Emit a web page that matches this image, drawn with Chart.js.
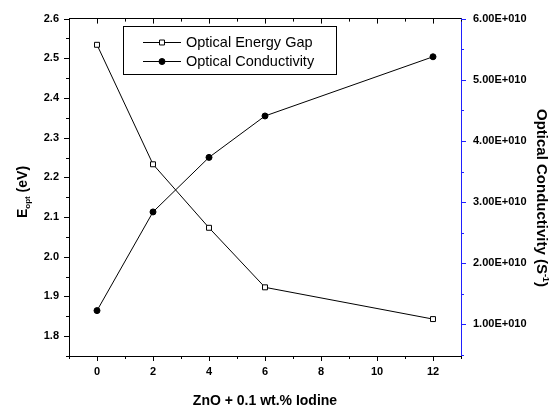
<!DOCTYPE html>
<html><head><meta charset="utf-8">
<script src="https://cdn.jsdelivr.net/npm/chart.js@4.4.1/dist/chart.umd.min.js"></script>
<style>html,body{margin:0;padding:0;background:#fff}canvas{display:block}</style>
</head><body>
<canvas id="c" width="553" height="412"></canvas>
<script>
// ---- data ----
const xValues = [0, 2, 4, 6, 12];
const energyGap = [2.534, 2.233, 2.073, 1.923, 1.843];
const conductivity = [1.226e10, 2.839e10, 3.731e10, 4.408e10, 5.376e10];
const xTickLabels = ['0', '2', '4', '6', '8', '10', '12'];
const leftTickLabels = ['1.8', '1.9', '2.0', '2.1', '2.2', '2.3', '2.4', '2.5', '2.6'];
const rightTickLabels = ['1.00E+010', '2.00E+010', '3.00E+010', '4.00E+010', '5.00E+010', '6.00E+010'];
const seriesNames = ['Optical Energy Gap', 'Optical Conductivity'];
const xTitle = 'ZnO + 0.1 wt.% Iodine';

const BLUE = '#2020ff';
const TICKFONT = {family: 'Liberation Sans, Arial, sans-serif', size: 11, weight: 'bold'};

function labelTicks(arr) {
  return (s) => { s.ticks = arr.map(t => ({value: Number(t), label: t})); };
}
function labelFor(arr) {
  return (v) => { const f = arr.find(t => Math.abs(Number(t) - v) <= 1e-9 * Math.max(1, Math.abs(v))); return f || ''; };
}

const tickPlugin = {
  id: 'ticksAndTitles',
  afterDraw(chart) {
    const ctx = chart.ctx;
    const {x, y, y1} = chart.scales;
    const ca = chart.chartArea;
    ctx.save();
    ctx.lineWidth = 1;
    // bottom & top ticks (major at labelled values, minor halfway)
    ctx.strokeStyle = '#000';
    for (let v = -1; v <= 13; v++) {
      const px = Math.round(x.getPixelForValue(v)) + 0.5;
      const len = (v % 2 === 0) ? 5 : 3;
      ctx.beginPath(); ctx.moveTo(px, ca.bottom); ctx.lineTo(px, ca.bottom + len); ctx.stroke();
      ctx.beginPath(); ctx.moveTo(px, ca.top); ctx.lineTo(px, ca.top + len); ctx.stroke();
    }
    // left ticks
    for (let i = 0; i <= 17; i++) {
      const v = 1.75 + i * 0.05;
      const py = Math.round(y.getPixelForValue(v)) + 0.5;
      const len = (i % 2 === 1) ? 5 : 3;
      ctx.beginPath(); ctx.moveTo(ca.left, py); ctx.lineTo(ca.left - len, py); ctx.stroke();
    }
    // right ticks (blue)
    ctx.strokeStyle = BLUE;
    for (let i = 1; i <= 12; i++) {
      const v = i * 0.5e10;
      const py = Math.round(y1.getPixelForValue(v)) + 0.5;
      const len = (i % 2 === 0) ? 5 : 3;
      ctx.beginPath(); ctx.moveTo(ca.right, py); ctx.lineTo(ca.right + len, py); ctx.stroke();
    }
    // axis titles
    ctx.fillStyle = '#000';
    ctx.textBaseline = 'alphabetic';
    ctx.font = 'bold 14px "Liberation Sans", Arial, sans-serif';
    ctx.textAlign = 'center';
    ctx.fillText(xTitle, (ca.left + ca.right) / 2, 405);
    // left title: E_opt (eV)
    ctx.save();
    ctx.translate(27, 192);
    ctx.rotate(-Math.PI / 2);
    ctx.textAlign = 'left';
    const fMain = 'bold 14px "Liberation Sans", Arial, sans-serif';
    const fSub = 'bold 8px "Liberation Sans", Arial, sans-serif';
    ctx.font = fMain; const wE = ctx.measureText('E').width;
    ctx.font = fSub; const wS = ctx.measureText('opt').width;
    ctx.font = fMain; const wR = ctx.measureText(' (eV)').width;
    let sx = -(wE + wS + wR) / 2;
    ctx.font = fMain; ctx.fillText('E', sx, 0); sx += wE;
    ctx.font = fSub; ctx.fillText('opt', sx, 3); sx += wS;
    ctx.font = fMain; ctx.fillText(' (eV)', sx, 0);
    ctx.restore();
    // right title: Optical Conductivity (S^-1)
    ctx.save();
    ctx.translate(537, 198);
    ctx.rotate(Math.PI / 2);
    ctx.textAlign = 'left';
    const fR = 'bold 15px "Liberation Sans", Arial, sans-serif';
    const fSup = 'bold 9px "Liberation Sans", Arial, sans-serif';
    const p1 = 'Optical Conductivity (S', p2 = '-1', p3 = ')';
    ctx.font = fR; const w1 = ctx.measureText(p1).width, w3 = ctx.measureText(p3).width;
    ctx.font = fSup; const w2 = ctx.measureText(p2).width;
    let rx = -(w1 + w2 + w3) / 2;
    ctx.font = fR; ctx.fillText(p1, rx, 0); rx += w1;
    ctx.font = fSup; ctx.fillText(p2, rx, -6); rx += w2;
    ctx.font = fR; ctx.fillText(p3, rx, 0);
    ctx.restore();
    // legend
    const ds = chart.data.datasets;
    ctx.strokeStyle = '#000';
    ctx.lineWidth = 1;
    ctx.strokeRect(123.5, 26.5, 213, 48);
    ctx.font = '14.5px "Liberation Sans", Arial, sans-serif';
    ctx.textAlign = 'left';
    ctx.textBaseline = 'middle';
    const rows = [42, 61];
    ds.forEach((d, i) => {
      const ry = rows[i] + 0.5;
      ctx.strokeStyle = '#000';
      ctx.beginPath(); ctx.moveTo(143, ry); ctx.lineTo(181, ry); ctx.stroke();
      ctx.save();
      ctx.fillStyle = d.pointBackgroundColor; ctx.strokeStyle = '#000';
      ctx.beginPath();
      if (d.pointStyle === 'rect') {
        const s = d.pointRadius * Math.SQRT1_2;
        ctx.rect(162 - s, ry - s, 2 * s, 2 * s);
      } else {
        ctx.arc(162, ry, d.pointRadius, 0, Math.PI * 2);
      }
      ctx.fill(); ctx.stroke();
      ctx.restore();
      ctx.fillStyle = '#000';
      ctx.fillText(d.label, 186, rows[i] + 1);
    });
    ctx.restore();
  }
};

new Chart(document.getElementById('c'), {
  type: 'line',
  data: {
    datasets: [
      {
        label: seriesNames[0],
        data: xValues.map((v, i) => ({x: v, y: energyGap[i]})),
        xAxisID: 'x', yAxisID: 'y',
        borderColor: '#000', borderWidth: 1,
        pointStyle: 'rect', pointRadius: 3.5,
        pointBackgroundColor: '#fff', pointBorderColor: '#000', pointBorderWidth: 1,
        tension: 0, fill: false
      },
      {
        label: seriesNames[1],
        data: xValues.map((v, i) => ({x: v, y: conductivity[i]})),
        xAxisID: 'x', yAxisID: 'y1',
        borderColor: '#000', borderWidth: 1,
        pointStyle: 'circle', pointRadius: 3,
        pointBackgroundColor: '#000', pointBorderColor: '#000', pointBorderWidth: 1,
        tension: 0, fill: false
      }
    ]
  },
  options: {
    responsive: false,
    animation: false,
    devicePixelRatio: 1,
    layout: {padding: 0},
    plugins: {legend: {display: false}, tooltip: {enabled: false}},
    scales: {
      x: {
        type: 'linear', position: 'bottom', min: -1, max: 13,
        grid: {display: false, drawTicks: false},
        border: {display: true, color: '#000', width: 1},
        afterBuildTicks: labelTicks(xTickLabels),
        ticks: {autoSkip: false, maxRotation: 0, padding: 9, color: '#000', font: TICKFONT,
          callback: labelFor(xTickLabels)},
        afterFit: (s) => { s.height = 56; }
      },
      x2: {
        type: 'linear', position: 'top', min: -1, max: 13,
        grid: {display: false, drawTicks: false},
        border: {display: true, color: '#000', width: 1},
        ticks: {display: false},
        afterFit: (s) => { s.height = 14; }
      },
      y: {
        type: 'linear', position: 'left', min: 1.75, max: 2.6,
        grid: {display: false, drawTicks: false},
        border: {display: true, color: '#000', width: 1},
        afterBuildTicks: labelTicks(leftTickLabels),
        ticks: {autoSkip: false, padding: 10, color: '#000', font: TICKFONT,
          callback: labelFor(leftTickLabels)},
        afterFit: (s) => { s.width = 69; }
      },
      y1: {
        type: 'linear', position: 'right', min: 4.84e9, max: 6e10,
        grid: {display: false, drawTicks: false},
        border: {display: true, color: BLUE, width: 1},
        afterBuildTicks: labelTicks(rightTickLabels),
        ticks: {autoSkip: false, padding: 12, color: '#000', font: TICKFONT,
          callback: labelFor(rightTickLabels)},
        afterFit: (s) => { s.width = 92; }
      }
    }
  },
  plugins: [tickPlugin]
});
</script>
</body></html>
